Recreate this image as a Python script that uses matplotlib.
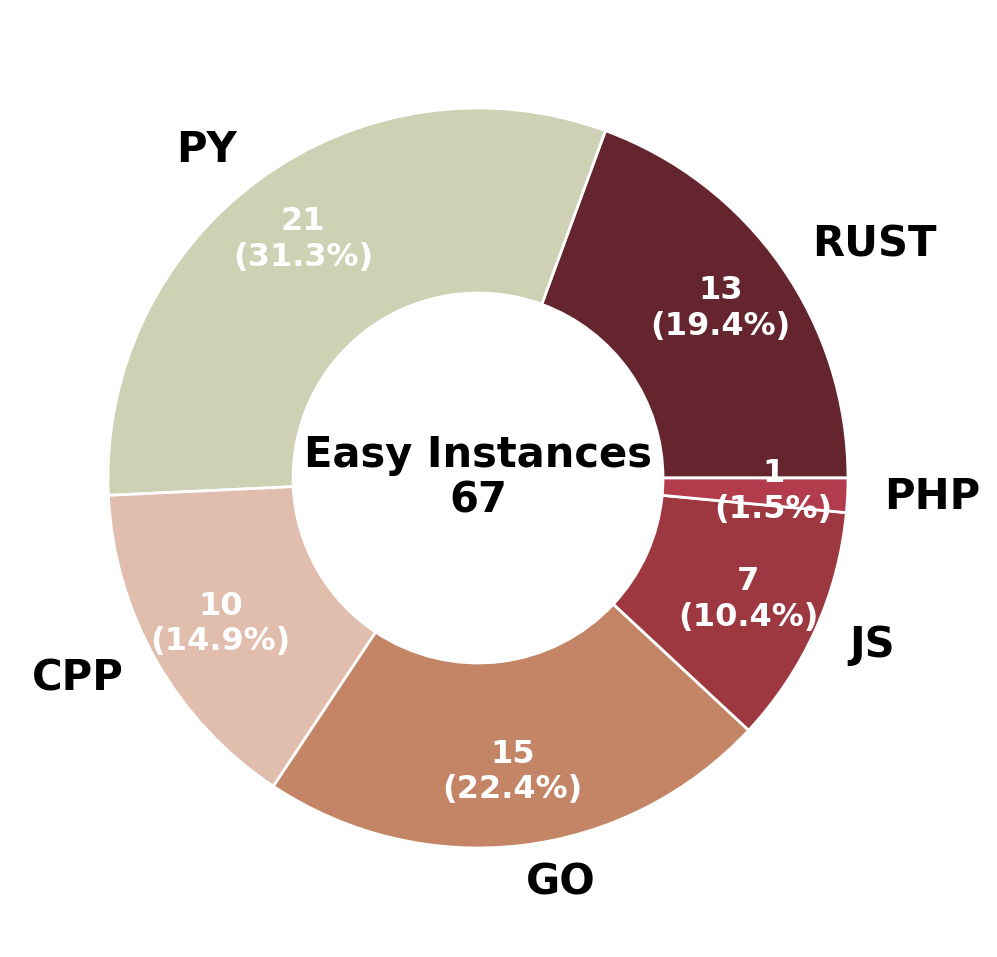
import matplotlib
matplotlib.use("Agg")
import matplotlib.pyplot as plt

labels = ["RUST", "PY", "CPP", "GO", "JS", "PHP"]
values = [13, 21, 10, 15, 7, 1]
colors = ["#65252e", "#cfd1b4", "#e0bdad", "#c38566", "#9e3840", "#b23c4c"]
center_title = "Easy Instances"

total = sum(values)

fig = plt.figure(figsize=(9.97, 9.57), dpi=100)
ax = fig.add_axes([0, 0, 1, 1])

def fmt(p):
    n = int(round(p * total / 100.0))
    return f"{n}\n({p:.1f}%)"

wedges, texts, autotexts = ax.pie(
    values, labels=labels, colors=colors, startangle=0, counterclock=True,
    autopct=fmt, pctdistance=0.8, labeldistance=1.1,
    wedgeprops=dict(width=0.5, edgecolor="white", linewidth=2),
    textprops=dict(fontsize=30, fontweight="bold", color="black"),
)
for t in autotexts:
    t.set_color("white")
    t.set_fontsize(23)
    t.set_fontweight("bold")
    t.set_linespacing(1.2)

ax.text(0, 0, f"{center_title}\n{total}", ha="center", va="center",
        fontsize=30, fontweight="bold", linespacing=1.1)

R = 370.0
ax.set_xlim(-478 / R, (997 - 478) / R)
ax.set_ylim(-(957 - 478) / R, 478 / R)
ax.set_aspect("equal")
ax.axis("off")

fig.savefig("out.png", dpi=100)
